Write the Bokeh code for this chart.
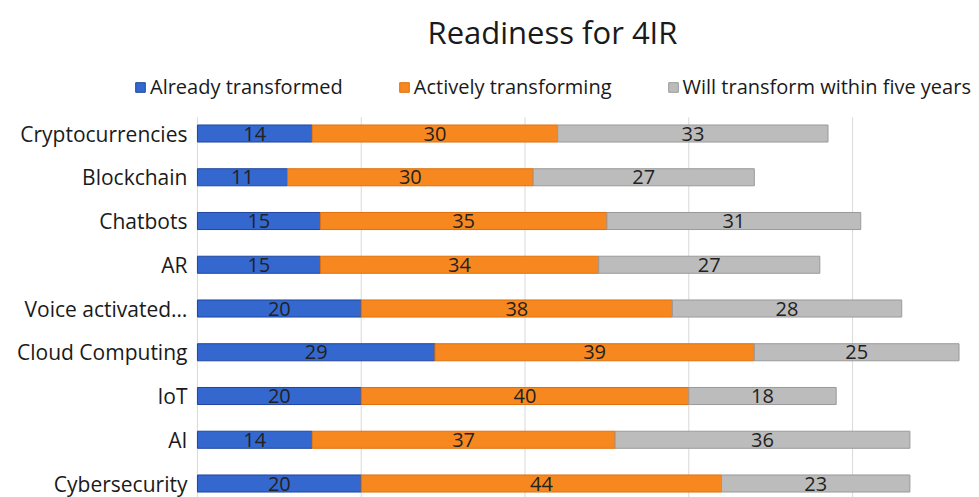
from bokeh.plotting import figure
from bokeh.models import ColumnDataSource, Legend, LegendItem
from bokeh.embed import file_html
from bokeh.resources import INLINE
from bokeh.core.properties import value

categories = ["Cryptocurrencies", "Blockchain", "Chatbots", "AR", "Voice activated…",
              "Cloud Computing", "IoT", "AI", "Cybersecurity"]
already = [14, 11, 15, 15, 20, 29, 20, 14, 20]
actively = [30, 30, 35, 34, 38, 39, 40, 37, 44]
will = [33, 27, 31, 27, 28, 25, 18, 36, 23]
series_names = ["Already transformed", "Actively transforming", "Will transform within five years"]
grid_ticks = [0, 20, 40, 60, 80]

n = len(categories)
ypos = [n - 1 - i for i in range(n)]

FONT = "Open Sans"

src = ColumnDataSource(dict(y=ypos, a=already, b=actively, c=will))

y_start = -0.32
p = figure(width=979, height=497, output_backend="svg", toolbar_location=None,
           x_range=(-24.05, 95.5), y_range=(y_start, n - 1 + 1.669),
           min_border_left=0, min_border_right=0, min_border_bottom=0, min_border_top=60)

# vertical gridlines at the value ticks, spanning the bar area only
p.segment(x0=grid_ticks, x1=grid_ticks, y0=[y_start] * len(grid_ticks),
          y1=[n - 1 + 0.37] * len(grid_ticks), line_color="#d9d9d9", line_width=1)

bar_fill = ["#3468cf", "#f7881f", "#bcbcbc"]
bar_line = ["#1f45a0", "#e06f0c", "#9a9a9a"]
rs = p.hbar_stack(["a", "b", "c"], y="y", height=0.39, source=src,
                  fill_color=bar_fill, line_color=bar_line, line_width=1)

# value labels in the middle of each segment
lx, ly, lt = [], [], []
for i in range(n):
    left = 0
    for vals in (already, actively, will):
        v = vals[i]
        lx.append(left + v / 2)
        ly.append(ypos[i])
        lt.append(str(v))
        left += v
p.text(x=lx, y=ly, text=lt, text_align="center", text_baseline="middle",
       text_font=value(FONT), text_font_size="20px", text_color="#222222")

# category labels to the left of the bars' base
p.text(x=[0] * n, y=ypos, text=categories, x_offset=-10, text_align="right",
       text_baseline="middle", text_font=value(FONT), text_font_size="21px",
       text_color="#1a1a1a")

p.xaxis.visible = False
p.yaxis.visible = False
p.xgrid.visible = False
p.ygrid.visible = False
p.outline_line_color = None

items = [LegendItem(label=name, renderers=[r]) for name, r in zip(series_names, rs)]
legend = Legend(items=items, orientation="horizontal", location=(134, 397),
                label_text_font=FONT, label_text_font_size="20px", label_text_color="#1a1a1a",
                glyph_width=12, glyph_height=12, label_standoff=4, spacing=55,
                padding=0, margin=0, border_line_color=None, background_fill_alpha=0)
p.add_layout(legend, "center")

p.title.text = "Readiness for 4IR"
p.title.text_font = FONT
p.title.text_font_size = "31px"
p.title.text_font_style = "normal"
p.title.text_color = "#1a1a1a"
p.title.align = "left"
p.title.offset = 427
p.title.standoff = 15

open("out.html", "w").write(file_html(p, INLINE))
